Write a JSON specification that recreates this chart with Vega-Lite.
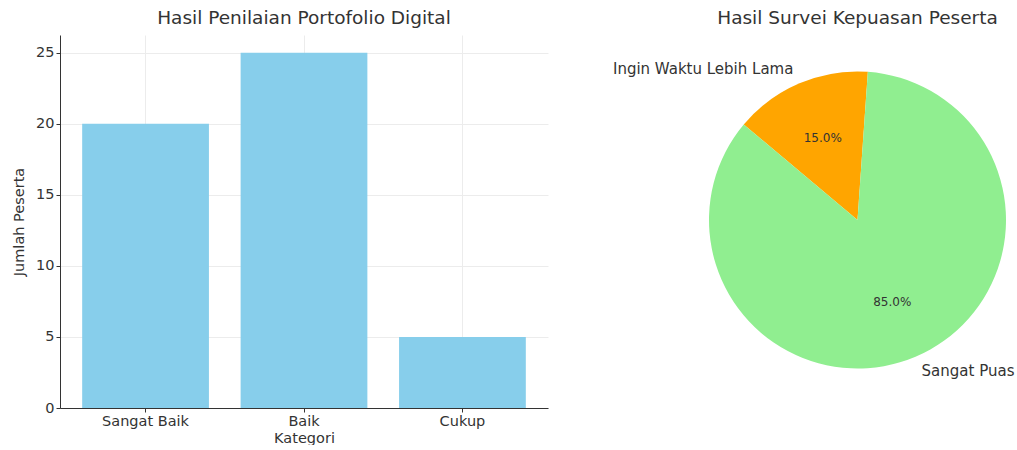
{
  "$schema": "https://vega.github.io/schema/vega-lite/v6.json",
  "background": "white",
  "padding": {"left": 11, "top": 8, "right": 0, "bottom": 0},
  "bounds": "flush",
  "spacing": 161,
  "config": {
    "view": {"stroke": null},
    "font": "DejaVu Sans",
    "title": {"fontSize": 18.5, "fontWeight": "normal", "color": "#333333", "font": "DejaVu Sans", "offset": 8}
  },
  "hconcat": [
    {
      "width": 488,
      "height": 373,
      "title": "Hasil Penilaian Portofolio Digital",
      "data": {"values": [
        {"kategori": "Sangat Baik", "jumlah": 20},
        {"kategori": "Baik", "jumlah": 25},
        {"kategori": "Cukup", "jumlah": 5}
      ]},
      "mark": {"type": "bar", "color": "#87CEEB"},
      "encoding": {
        "x": {
          "field": "kategori", "type": "nominal", "sort": null, "title": "Kategori",
          "scale": {"paddingInner": 0.2, "paddingOuter": 0.14},
          "axis": {"labelAngle": 0, "grid": true, "gridColor": "#ececec", "domainColor": "#333333", "tickColor": "#333333", "tickSize": 4, "labelFontSize": 14.5, "titleFontSize": 14.5, "titleFontWeight": "normal", "labelColor": "#333333", "titleColor": "#333333", "labelPadding": 2, "titlePadding": 4}
        },
        "y": {
          "field": "jumlah", "type": "quantitative", "title": "Jumlah Peserta",
          "scale": {"domain": [0, 26.25], "nice": false},
          "axis": {"values": [0, 5, 10, 15, 20, 25], "grid": true, "gridColor": "#ececec", "domainColor": "#333333", "tickColor": "#333333", "tickSize": 4, "labelFontSize": 14.5, "titleFontSize": 14.5, "titleFontWeight": "normal", "labelColor": "#333333", "titleColor": "#333333", "labelPadding": 2, "titlePadding": 9}
        }
      }
    },
    {
      "width": 297,
      "height": 370,
      "title": "Hasil Survei Kepuasan Peserta",
      "data": {"values": [
        {"kategori": "Ingin Waktu Lebih Lama", "share": 0.15},
        {"kategori": "Sangat Puas", "share": 0.85}
      ]},
      "encoding": {
        "theta": {"field": "share", "type": "quantitative", "stack": true, "scale": {"range": [-0.872665, 5.410521]}}
      },
      "layer": [
        {
          "mark": {"type": "arc"},
          "encoding": {
            "color": {"field": "kategori", "type": "nominal", "scale": {"domain": ["Ingin Waktu Lebih Lama", "Sangat Puas"], "range": ["#FFA500", "#90EE90"]}, "legend": null}
          }
        },
        {
          "mark": {"type": "text", "radius": 89, "fontSize": 12, "color": "#333333"},
          "encoding": {
            "detail": {"field": "kategori", "type": "nominal"},
            "text": {"field": "share", "type": "quantitative", "format": ".1%"}
          }
        },
        {
          "mark": {"type": "text", "radius": 164, "fontSize": 15, "color": "#333333", "align": {"expr": "datum.kategori == 'Sangat Puas' ? 'left' : 'right'"}},
          "encoding": {
            "detail": {"field": "kategori", "type": "nominal"},
            "text": {"field": "kategori", "type": "nominal"}
          }
        }
      ]
    }
  ]
}
